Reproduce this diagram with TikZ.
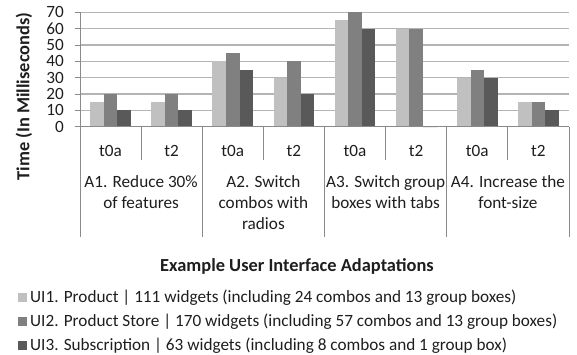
\documentclass[tikz,border=0pt]{standalone}
\usepackage{fontspec}
\setmainfont{Carlito}
\definecolor{uione}{HTML}{C0C0C0}
\definecolor{uitwo}{HTML}{808080}
\definecolor{uithree}{HTML}{595959}
\definecolor{gridc}{HTML}{B4B4B4}
\definecolor{axisc}{HTML}{8A8A8A}
\definecolor{txt}{HTML}{1E1E1E}
\tikzset{
  lbl/.style={font=\fontsize{17.2}{21}\selectfont, text=txt, inner sep=0pt},
  boldlbl/.style={lbl, font=\fontsize{18.4}{22}\selectfont\bfseries},
  gridline/.style={draw=gridc, line width=1.2pt},
  axisline/.style={draw=axisc, line width=0.9pt},
}
\begin{document}
\begin{tikzpicture}[x=1pt, y=-1pt]
\useasboundingbox (0,0) rectangle (577,355);
% value axis: 0 at y=126.7, 16.34 px per 10 ms
\begin{scope}[shift={(0,126.7)}, y=1.634pt]
  \foreach \v in {10,20,...,70} {
    \draw[gridline] (80,\v) -- (569,\v);
  }
  \foreach \v in {0,10,...,70} {
    \draw[axisline] (74.5,\v) -- (80,\v);
    \node[lbl, anchor=east] (tick\v) at (64,\v) {\v};
  }
  % bars: category index / values of UI1, UI2, UI3
  \foreach \c/\a/\b/\d in {0/15/20/10, 1/15/20/10, 2/40/45/35, 3/30/40/20,
                           4/65/70/60, 5/60/60/0, 6/30/35/30, 7/15/15/10} {
    \pgfmathsetmacro{\cx}{80+61.125*(\c+0.5)}
    \pgfmathsetmacro{\xa}{\cx-20.375}
    \pgfmathsetmacro{\xb}{\xa+13.58}
    \pgfmathsetmacro{\xc}{\xb+13.58}
    \pgfmathsetmacro{\xd}{\xc+13.58}
    \fill[uione]   (\xa,0) rectangle (\xb,\a);
    \fill[uitwo]   (\xb,0) rectangle (\xc,\b);
    \fill[uithree] (\xc,0) rectangle (\xd,\d);
  }
  \draw[axisline] (74.5,0) -- (569,0);
  \draw[axisline] (80,70) -- (80,0);
\end{scope}
% category axis separators
\draw[axisline] (80,126.7) -- (80,237);
\foreach \x in {141.1,263.4,385.6,507.9} {
  \draw[axisline] (\x,126.7) -- (\x,160);
}
\foreach \x in {202.3,324.5,446.8,569} {
  \draw[axisline] (\x,126.7) -- (\x,237);
}
% inner category labels
\foreach \c/\t in {0/t0a,1/t2,2/t0a,3/t2,4/t0a,5/t2,6/t0a,7/t2} {
  \node[lbl] (cat\c) at ({80+61.125*(\c+0.5)},150.5) {\t};
}
% group labels
\node[lbl, align=center, anchor=north] (grpA) at (141.1,175) {A1. Reduce 30\%\\of features};
\node[lbl, align=center, anchor=north] (grpB) at (263.4,175) {A2. Switch\\combos with\\radios};
\node[lbl, align=center, anchor=north] (grpC) at (385.6,175) {A3. Switch group\\boxes with tabs};
\node[lbl, align=center, anchor=north] (grpD) at (507.9,175) {A4. Increase the\\font-size};
% axis titles
\node[boldlbl, rotate=90] (ytitle) at (24,96.5) {Time (In Milliseconds)};
\node[boldlbl] (xtitle) at (297,266) {Example User Interface Adaptations};
% legend
\foreach \i/\col/\t in {
  0/uione/{UI1. Product | 111 widgets (including 24 combos and 13 group boxes)},
  1/uitwo/{UI2. Product Store | 170 widgets (including 57 combos and 13 group boxes)},
  2/uithree/{UI3. Subscription | 63 widgets (including 8 combos and 1 group box)}} {
  \fill[\col] (18,{293+24*\i}) rectangle (27,{302+24*\i});
  \node[lbl, anchor=west] (leg\i) at (30,{297.5+24*\i}) {\t};
}
\end{tikzpicture}
\end{document}
